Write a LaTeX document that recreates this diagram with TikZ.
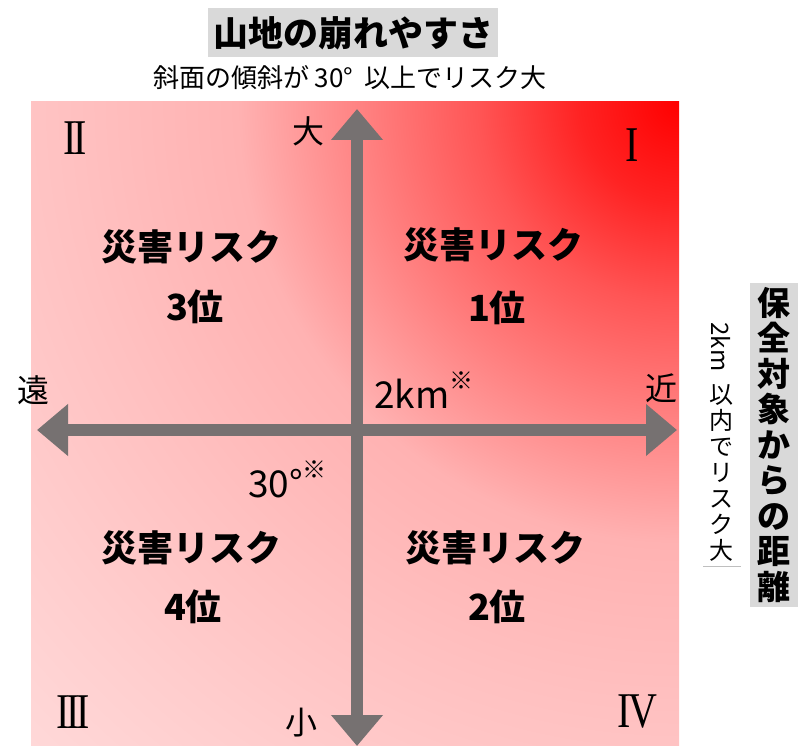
\documentclass[tikz,border=0pt]{standalone}
\usepackage{fontspec}
\setmainfont{Noto Sans CJK JP}
\newfontfamily\romanfont{Liberation Serif}
\usetikzlibrary{arrows.meta}
\definecolor{axisgray}{HTML}{767171}
\definecolor{boxgray}{HTML}{D9D9D9}
\definecolor{lineg}{HTML}{BFBFBF}
\definecolor{g0}{RGB}{255,0,0}
\definecolor{g1}{RGB}{255,35,35}
\definecolor{g2}{RGB}{255,85,85}
\definecolor{g3}{RGB}{255,135,135}
\definecolor{g4}{RGB}{255,178,178}
\definecolor{g5}{RGB}{255,192,192}
\definecolor{g6}{RGB}{255,204,204}
\definecolor{g7}{RGB}{255,216,216}
\pgfdeclareradialshading{bgrad}{\pgfpoint{0bp}{0bp}}{color(0bp)=(g0); color(100bp)=(g1); color(200bp)=(g2); color(330bp)=(g3); color(440bp)=(g4); color(600bp)=(g5); color(750bp)=(g6); color(910bp)=(g7)}
\newcommand{\rmnum}[1]{\scalebox{0.8}[1]{\romanfont #1}}
\tikzset{
  axisarrow/.style={draw=axisgray, line width=12pt,
    arrows={Triangle[width=50pt,length=31pt]-Triangle[width=50pt,length=31pt]}},
  lbl/.style={inner sep=0pt, font=\fontsize{32}{32}\selectfont},
  risk/.style={inner sep=0pt, font=\bfseries\fontsize{36}{36}\selectfont},
  roman/.style={inner sep=0pt, font=\fontsize{50}{50}\selectfont},
  graybox/.style={fill=boxgray, inner sep=0pt},
}
\begin{document}
\begin{tikzpicture}[x=1pt,y=-1pt]
\useasboundingbox (0,0) rectangle (798,746);
% background gradient
\begin{scope}
  \clip (31,102) rectangle (679,746);
  \node[inner sep=0pt,outer sep=0pt] (shade) at (679,102) {\pgfuseshading{bgrad}};
\end{scope}
% titles
\node[graybox, minimum width=290pt, minimum height=49pt, font=\bfseries\fontsize{35}{35}\selectfont] (title) at (353,33) {山地の崩れやすさ};
\node[inner sep=0pt, font=\fontsize{26}{26}\selectfont] (sub) at (350,78) {斜面の傾斜が 30°\ \ 以上でリスク大};
\node[graybox, minimum width=48pt, minimum height=324pt, align=center, font=\bfseries\fontsize{33}{35.5}\selectfont] (rtitle) at (774,445) {保\\全\\対\\象\\か\\ら\\の\\距\\離};
\node[inner sep=0pt, rotate=-90, font=\fontsize{24}{24}\selectfont] (km) at (721,347) {2km};
\node[inner sep=0pt, align=center, font=\fontsize{24}{26}\selectfont] (rsub) at (721,473) {以\\内\\で\\リ\\ス\\ク\\大};
\coordinate (ul1) at (703,566);
\coordinate (ul2) at (741,566);
\draw[lineg, line width=1pt] (ul1) -- (ul2);
% axes
\coordinate (T) at (357,109);
\coordinate (B) at (357,746);
\coordinate (L) at (37,430);
\coordinate (R) at (677,430);
\draw[axisarrow] (L) -- (R);
\draw[axisarrow] (B) -- (T);
% axis labels
\node[lbl] (big) at (308,131) {大};
\node[lbl] (small) at (301,723) {小};
\node[lbl] (far) at (33,390) {遠};
\node[lbl] (near) at (661,388) {近};
\node[inner sep=0pt, anchor=base west, font=\fontsize{37}{37}\selectfont] (km2) at (374,408) {2km\raisebox{0.5em}{\fontsize{24}{24}\selectfont ※}};
\node[inner sep=0pt, anchor=base west, font=\fontsize{37}{37}\selectfont] (deg) at (248,497) {30°\raisebox{0.5em}{\fontsize{24}{24}\selectfont ※}};
% roman numerals
\node[roman] (r1) at (632,145) {\rmnum{I}};
\node[roman] (r2) at (75,138) {\rmnum{I\kern-4.5pt I}};
\node[roman] (r3) at (73,712) {\rmnum{I\kern-4.5pt I\kern-4.5pt I}};
\node[roman] (r4) at (637,712) {\rmnum{I\kern-3pt V}};
% risks
\node[risk] (q1a) at (493,245) {災害リスク};
\node[risk] (q1b) at (497,308) {1位};
\node[risk] (q2a) at (191,247) {災害リスク};
\node[risk] (q2b) at (195,307) {3位};
\node[risk] (q3a) at (191,548) {災害リスク};
\node[risk] (q3b) at (193,607) {4位};
\node[risk] (q4a) at (495,548) {災害リスク};
\node[risk] (q4b) at (497,607) {2位};
\end{tikzpicture}
\end{document}
